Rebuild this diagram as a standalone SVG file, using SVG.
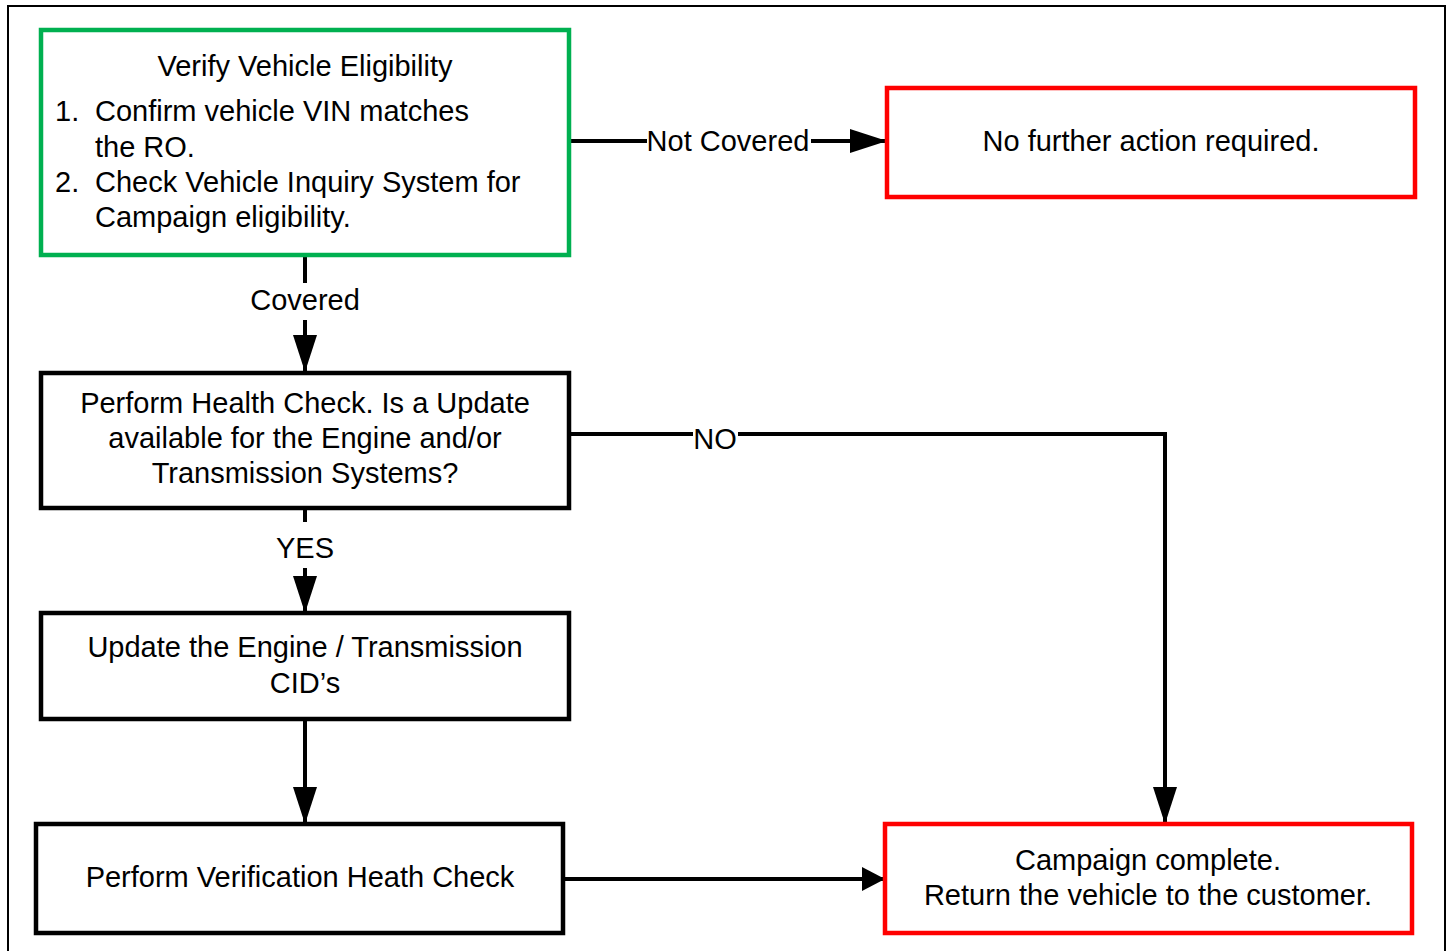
<svg xmlns="http://www.w3.org/2000/svg" width="1448" height="951" viewBox="0 0 1448 951">
<defs>
<style>
text{font-family:"Liberation Sans",Arial,sans-serif;font-size:29px;fill:#000}
.c{text-anchor:middle}
.box{fill:#fff;stroke-width:4.5}
.blk{stroke:#000}
.grn{stroke:#00b050}
.red{stroke:#ff0000}
.ln{fill:none;stroke:#000;stroke-width:4}
.lbg{fill:#fff}
</style>
<marker id="ah" viewBox="0 0 10 10" refX="10" refY="5" preserveAspectRatio="none" markerUnits="userSpaceOnUse" markerWidth="37" markerHeight="24" orient="auto">
<path d="M0,0 L10,5 L0,10 Z" fill="#000"/>
</marker>
<marker id="ahs" viewBox="0 0 10 10" refX="10" refY="5" preserveAspectRatio="none" markerUnits="userSpaceOnUse" markerWidth="23" markerHeight="24" orient="auto">
<path d="M0,0 L10,5 L0,10 Z" fill="#000"/>
</marker>
</defs>
<rect width="1448" height="951" fill="#fff"/>
<rect x="8" y="6" width="1437" height="960" fill="none" stroke="#000" stroke-width="2"/>

<g id="connectors">
<line class="ln" x1="570" y1="141" x2="887" y2="141" marker-end="url(#ah)"/>
<line class="ln" x1="305" y1="255" x2="305" y2="372" marker-end="url(#ah)"/>
<polyline class="ln" points="570,434 1165,434 1165,824" marker-end="url(#ah)"/>
<line class="ln" x1="305" y1="509" x2="305" y2="613" marker-end="url(#ah)"/>
<line class="ln" x1="305" y1="719" x2="305" y2="824" marker-end="url(#ah)"/>
<line class="ln" x1="564" y1="879" x2="885" y2="879" marker-end="url(#ahs)"/>
<rect class="lbg" x="647" y="125" width="164" height="32"/>
<text class="c" x="728" y="151">Not Covered</text>
<rect class="lbg" x="248" y="283" width="114" height="37"/>
<text class="c" x="305" y="310">Covered</text>
<rect class="lbg" x="693" y="420" width="45" height="30"/>
<text class="c" x="715" y="449">NO</text>
<rect class="lbg" x="274" y="522" width="62" height="46"/>
<text class="c" x="305" y="558">YES</text>
</g>

<g id="verify">
<rect class="box grn" x="41" y="30" width="528" height="225"/>
<text class="c" x="305" y="76">Verify Vehicle Eligibility</text>
<text x="55" y="121">1.</text>
<text x="95" y="121">Confirm vehicle VIN matches</text>
<text x="95" y="157">the RO.</text>
<text x="55" y="192">2.</text>
<text x="95" y="192">Check Vehicle Inquiry System for</text>
<text x="95" y="227">Campaign eligibility.</text>
</g>

<g id="no-action">
<rect class="box red" x="887" y="88" width="528" height="109"/>
<text class="c" x="1151" y="151">No further action required.</text>
</g>

<g id="health-check">
<rect class="box blk" x="41" y="373" width="528" height="135"/>
<text class="c" x="305" y="413">Perform Health Check. Is a Update</text>
<text class="c" x="305" y="448">available for the Engine and/or</text>
<text class="c" x="305" y="483">Transmission Systems?</text>
</g>

<g id="update">
<rect class="box blk" x="41" y="613" width="528" height="106"/>
<text class="c" x="305" y="657">Update the Engine / Transmission</text>
<text class="c" x="305" y="693">CID’s</text>
</g>

<g id="verification">
<rect class="box blk" x="36" y="824" width="527" height="109"/>
<text class="c" x="300" y="887">Perform Verification Heath Check</text>
</g>

<g id="complete">
<rect class="box red" x="885" y="824" width="527" height="109"/>
<text class="c" x="1148" y="870">Campaign complete.</text>
<text class="c" x="1148" y="905">Return the vehicle to the customer.</text>
</g>
</svg>
